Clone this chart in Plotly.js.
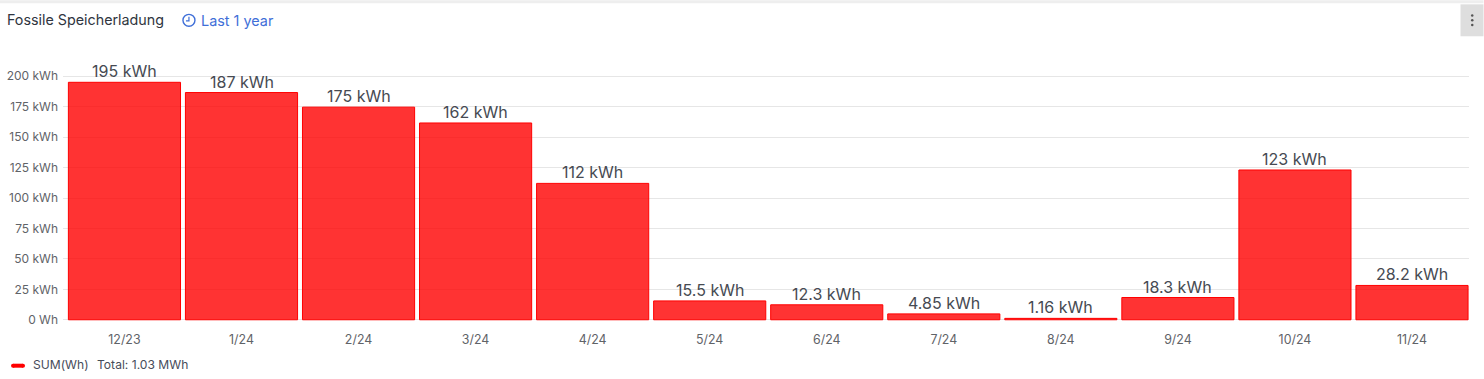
<!DOCTYPE html>
<html>
<head>
<meta charset="utf-8">
<script src="https://cdn.plot.ly/plotly-3.0.1.min.js"></script>
<style>html,body{margin:0;padding:0;background:#fff;overflow:hidden}#chart{width:1484px;height:379px}</style>
</head>
<body>
<div id="chart"></div>
<script>
const months = ['12/23','1/24','2/24','3/24','4/24','5/24','6/24','7/24','8/24','9/24','10/24','11/24'];
const values = [195,186.6,174.6,161.6,112,15.5,12.3,4.85,1.16,18.3,123,28.2];
const valueLabels = ['195 kWh','187 kWh','175 kWh','162 kWh','112 kWh','15.5 kWh','12.3 kWh','4.85 kWh','1.16 kWh','18.3 kWh','123 kWh','28.2 kWh'];
const yTicks = [0,25,50,75,100,125,150,175,200];
const yTickLabels = ['0 Wh','25 kWh','50 kWh','75 kWh','100 kWh','125 kWh','150 kWh','175 kWh','200 kWh'];

const W=1484,H=379,L=63,R=14.5,T=74.78,B=57.78;
const px=x=>(x-L)/(W-L-R);
const py=y=>1-(y-T)/(H-T-B);
const font='Inter, "Noto Sans", sans-serif';
const paperShape=(o)=>Object.assign({xref:'paper',yref:'paper',layer:'above'},o);
const note=(x,y,text,size,color,anchor)=>({xref:'paper',yref:'paper',x:px(x),y:py(y),text,showarrow:false,
  xanchor:anchor||'left',yanchor:'middle',font:{family:font,size,color},borderpad:0,borderwidth:0});
const barLabels=months.map((m,i)=>({xref:'x',yref:'y',x:m,y:values[i],text:valueLabels[i],showarrow:false,
  xanchor:'center',yanchor:'bottom',yshift:-1,font:{family:font,size:16,color:'#464a52'}}));

Plotly.newPlot('chart',[{
  type:'bar',name:'SUM(Wh)',x:months,y:values,
  marker:{color:'rgba(255,0,0,0.8)',line:{color:'#ff0000',width:1}},
  width:0.958,hoverinfo:'x+y'
}],{
  width:W,height:H,margin:{l:L,r:R,t:T,b:B,pad:0},
  paper_bgcolor:'#fff',plot_bgcolor:'#fff',showlegend:false,
  xaxis:{type:'category',categoryorder:'array',categoryarray:months,range:[-0.525,11.487],showgrid:false,zeroline:false,showline:false,
    ticks:'',tickfont:{family:font,size:12.4,color:'#5f6368'},ticklabelstandoff:10,fixedrange:true},
  yaxis:{range:[-1,201],tickmode:'array',tickvals:yTicks,ticktext:yTickLabels,gridcolor:'#e6e6e6',gridwidth:1,
    zeroline:false,showline:false,ticks:'',tickfont:{family:font,size:12,color:'#5f6368'},ticklabelstandoff:4,fixedrange:true},
  shapes:[
    paperShape({type:'rect',x0:px(0),x1:px(1484),y0:py(0),y1:py(3),fillcolor:'#eeeeee',line:{width:0}}),
    paperShape({type:'rect',x0:px(1461),x1:px(1484),y0:py(4),y1:py(36),fillcolor:'#dedede',line:{width:0}}),
    paperShape({type:'circle',x0:px(1471.5),x1:px(1474),y0:py(14),y1:py(16.5),fillcolor:'#555',line:{width:0}}),
    paperShape({type:'circle',x0:px(1471.5),x1:px(1474),y0:py(18.7),y1:py(21.2),fillcolor:'#555',line:{width:0}}),
    paperShape({type:'circle',x0:px(1471.5),x1:px(1474),y0:py(23.4),y1:py(25.9),fillcolor:'#555',line:{width:0}}),
    paperShape({type:'circle',x0:px(183),x1:px(195),y0:py(14),y1:py(26),fillcolor:'rgba(0,0,0,0)',line:{color:'#3f6fd8',width:1.4}}),
    paperShape({type:'path',path:`M ${px(189)} ${py(16.5)} L ${px(189)} ${py(20.5)} L ${px(186)} ${py(20.5)}`,line:{color:'#3f6fd8',width:1.2}}),
    paperShape({type:'rect',x0:px(13),x1:px(23),y0:py(364),y1:py(368),fillcolor:'#ff0000',line:{width:0}}),
    paperShape({type:'circle',x0:px(11),x1:px(15),y0:py(364),y1:py(368),fillcolor:'#ff0000',line:{width:0}}),
    paperShape({type:'circle',x0:px(21),x1:px(25),y0:py(364),y1:py(368),fillcolor:'#ff0000',line:{width:0}})
  ],
  annotations:barLabels.concat([
    note(6.5,20,'Fossile Speicherladung',14.3,'#2f3540'),
    note(201,20,'Last 1 year',14.4,'#3f6fd8'),
    note(33,364.5,'SUM(Wh)',12.1,'#464c5a'),
    note(97,364.5,'Total: 1.03 MWh',12.1,'#464c5a')
  ])
},{displayModeBar:false,staticPlot:true});
</script>
</body>
</html>
